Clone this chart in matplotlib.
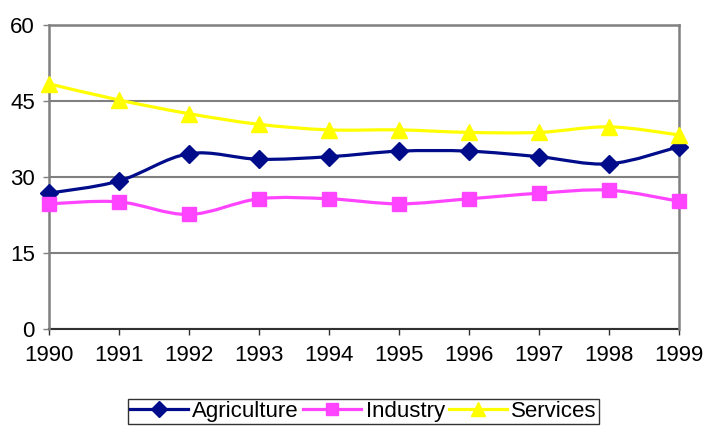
import numpy as np
import matplotlib
matplotlib.use('Agg')
import matplotlib.pyplot as plt
from matplotlib.path import Path
from matplotlib.patches import PathPatch
from matplotlib.lines import Line2D

matplotlib.rcParams['font.family'] = ['Liberation Sans', 'DejaVu Sans']

years = ['1990', '1991', '1992', '1993', '1994', '1995', '1996', '1997', '1998', '1999']
agriculture = [26.8, 29.2, 34.6, 33.5, 34.0, 35.1, 35.1, 34.0, 32.6, 36.0]
industry = [24.7, 25.1, 22.6, 25.7, 25.7, 24.7, 25.7, 26.8, 27.4, 25.2]
services = [48.4, 45.2, 42.5, 40.4, 39.3, 39.3, 38.8, 38.8, 39.9, 38.3]

series = [
    ('Agriculture', agriculture, '#000C8A', 'D', 9.5),
    ('Industry', industry, '#FF44FF', 's', 10),
    ('Services', services, '#FFFF00', '^', 12),
]


def smooth_path(x, y):
    # excel style smoothed line: bezier segments through the points
    pts = np.column_stack([x, y]).astype(float)
    n = len(pts)
    verts = [pts[0]]
    codes = [Path.MOVETO]
    for i in range(n - 1):
        p0 = pts[max(i - 1, 0)]
        p1 = pts[i]
        p2 = pts[i + 1]
        p3 = pts[min(i + 2, n - 1)]
        c1 = p1 + (p2 - p0) / 6.0
        c2 = p2 - (p3 - p1) / 6.0
        verts += [c1, c2, p2]
        codes += [Path.CURVE4] * 3
    return Path(verts, codes)


fig = plt.figure(figsize=(7.09, 4.28), dpi=100)
ax = fig.add_axes([48.7 / 709, 1 - 329 / 428, (679.3 - 48.7) / 709, (329 - 25) / 428])

x = np.arange(len(years))
handles = []
for name, vals, col, mk, ms in series:
    patch = PathPatch(smooth_path(x, vals), facecolor='none', edgecolor=col, lw=2.3, zorder=3, clip_on=False)
    ax.add_patch(patch)
    ax.plot(x, vals, linestyle='none', marker=mk, markersize=ms, color=col, markeredgecolor=col,
            markeredgewidth=1, zorder=4, clip_on=False)
    handles.append(Line2D([], [], color=col, lw=2.3, marker=mk, markersize=ms * 0.85,
                          markeredgecolor=col, label=name))

ax.set_xlim(0, len(years) - 1)
ax.set_ylim(0, 60)
ax.set_yticks([0, 15, 30, 45, 60])
ax.set_xticks(x)
ax.set_xticklabels(years)
ax.yaxis.grid(True, color='#808080', lw=1.5)
ax.set_axisbelow(True)

for s in ['left', 'right', 'top']:
    ax.spines[s].set_color('#808080')
    ax.spines[s].set_linewidth(1.8)
ax.spines['bottom'].set_color('#303030')
ax.spines['bottom'].set_linewidth(1.5)
ax.spines['bottom'].set_zorder(2)

ax.tick_params(axis='both', labelsize=16, colors='#000000', width=1, length=4, direction='out')
ax.tick_params(axis='x', pad=7.5, color='#303030')
ax.tick_params(axis='y', pad=6, color='#808080')

leg = fig.legend(handles=handles, loc='upper center', bbox_to_anchor=(363.5 / 709, 1 - 399 / 428),
                 ncol=3, fontsize=16, frameon=True, fancybox=False, edgecolor='#000000',
                 handlelength=2.6, handletextpad=0.2, columnspacing=0.2, borderpad=0.1,
                 borderaxespad=0)
leg.get_frame().set_linewidth(1.0)

plt.savefig('out.png', dpi=100)
